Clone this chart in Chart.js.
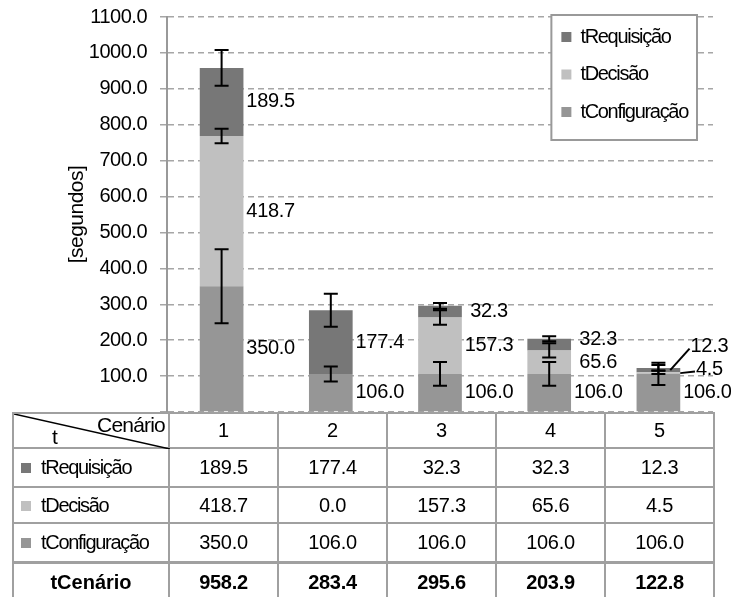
<!DOCTYPE html>
<html>
<head>
<meta charset="utf-8">
<script src="https://cdn.jsdelivr.net/npm/chart.js@4.4.0/dist/chart.umd.min.js"></script>
<style>
  body { margin: 0; width: 731px; height: 597px; overflow: hidden; background: #fff;
         font-family: "Liberation Sans", Arial, sans-serif; }
  #wrap { position: absolute; left: 0; top: 0; width: 731px; height: 413px; }
  #tbl { position: absolute; left: 12px; top: 412px; border-collapse: collapse;
         table-layout: fixed; width: 701px; font-size: 20px; color: #000; }
  #tbl td { border: 2px solid #a0a0a0; text-align: center; padding: 0; letter-spacing: -0.3px; }
  #tbl td.name { text-align: left; padding-left: 7px; letter-spacing: -1.3px; }
  #tbl tr.total td { border-top-width: 3px; font-weight: bold; }
  #tbl tr.total td.name { text-align: center; padding-left: 0; letter-spacing: 0; }
  .mk { display: inline-block; width: 10px; height: 10px; margin-right: 10px; vertical-align: 1px; }
  #corner { position: relative; }
  #corner svg { position: absolute; left: 0; top: 0; }
  #corner .c1 { position: absolute; right: 3px; top: -1px; letter-spacing: -0.8px; font-size: 21px; }
  #corner .c2 { position: absolute; left: 38px; bottom: -2px; font-size: 21px; }
</style>
</head>
<body>
<div id="wrap"><canvas id="chart"></canvas></div>
<table id="tbl"></table>
<script>
const categories = ["1", "2", "3", "4", "5"];
const seriesNames = ["tConfiguração", "tDecisão", "tRequisição"];
const tConfiguracao = [350.0, 106.0, 106.0, 106.0, 106.0];
const tDecisao = [418.7, 0.0, 157.3, 65.6, 4.5];
const tRequisicao = [189.5, 177.4, 32.3, 32.3, 12.3];
// half-length of the error bars
const errConfiguracao = [103, 21, 33, 33, 31];
const errDecisao = [20, 0, 20, 20, 5];
const errRequisicao = [50, 46, 8, 7, 8];
const colors = ["#969696", "#c0c0c0", "#777777"];
const yMax = 1100;
const yStep = 100;

const FONT = '"Liberation Sans", Arial, sans-serif';

const errorBars = {
  id: "errorBars",
  afterDatasetsDraw(chart) {
    const { ctx } = chart;
    const y = chart.scales.y;
    ctx.save();
    ctx.strokeStyle = "#000";
    ctx.lineWidth = 2;
    chart.data.datasets.forEach((ds, di) => {
      const meta = chart.getDatasetMeta(di);
      meta.data.forEach((bar, i) => {
        const e = ds.err[i];
        if (!e) return;
        let top = 0;
        for (let k = 0; k <= di; k++) top += chart.data.datasets[k].data[i];
        const hi = y.getPixelForValue(top + e);
        const lo = y.getPixelForValue(top - e);
        ctx.beginPath();
        ctx.moveTo(bar.x, hi); ctx.lineTo(bar.x, lo);
        ctx.moveTo(bar.x - 7, hi); ctx.lineTo(bar.x + 7, hi);
        ctx.moveTo(bar.x - 7, lo); ctx.lineTo(bar.x + 7, lo);
        ctx.stroke();
      });
    });
    ctx.restore();
  }
};

const valueLabels = {
  id: "valueLabels",
  afterDatasetsDraw(chart) {
    const { ctx } = chart;
    ctx.save();
    ctx.font = "20px " + FONT;
    ctx.letterSpacing = "-0.3px";
    ctx.fillStyle = "#000";
    ctx.strokeStyle = "#000";
    ctx.lineWidth = 2;
    ctx.textBaseline = "middle";
    ctx.textAlign = "center";
    categories.forEach((c, i) => {
      let prev = Infinity;
      chart.data.datasets.forEach((ds, di) => {
        const v = ds.data[i];
        if (!v) return;
        const bar = chart.getDatasetMeta(di).data[i];
        const mid = (bar.y + bar.base) / 2;
        const ly = Math.min(mid, prev - 23);
        prev = ly;
        const right = bar.x + bar.width / 2;
        const text = v.toFixed(1);
        let cx = bar.x + 49;
        if (Math.abs(bar.base - bar.y) < 8) {
          // tiny segment: label pushed aside with a leader line
          cx = bar.x + 51;
          const left = cx - ctx.measureText(text).width / 2;
          ctx.beginPath();
          ctx.moveTo(ly < mid - 10 ? right - 10 : right, mid);
          ctx.lineTo(left - 1, ly + 2);
          ctx.stroke();
        }
        ctx.fillText(text, cx, ly);
      });
    });
    ctx.restore();
  }
};

const legendBox = {
  id: "legendBox",
  afterDraw(chart) {
    const { ctx, chartArea } = chart;
    ctx.save();
    ctx.font = "20px " + FONT;
    ctx.letterSpacing = "-1.3px";
    const items = chart.data.datasets.slice().reverse();
    const tw = Math.max(...items.map(d => ctx.measureText(d.label).width));
    const w = 30 + tw + 8, h = 125;
    const x0 = chartArea.right - 16 - w, y0 = 15;
    ctx.fillStyle = "#fff";
    ctx.fillRect(x0, y0, w, h);
    ctx.strokeStyle = "#999";
    ctx.lineWidth = 2;
    ctx.strokeRect(x0, y0, w, h);
    ctx.textBaseline = "middle";
    items.forEach((d, k) => {
      const cy = y0 + 22 + k * 37.5;
      ctx.fillStyle = d.backgroundColor;
      ctx.fillRect(x0 + 10, cy - 5, 10, 10);
      ctx.fillStyle = "#000";
      ctx.fillText(d.label, x0 + 29, cy);
    });
    ctx.restore();
  }
};

const spacing = {
  id: "spacing",
  beforeDraw(chart) { chart.ctx.letterSpacing = "-0.5px"; }
};

new Chart(document.getElementById("chart"), {
  type: "bar",
  data: {
    labels: categories,
    datasets: [
      { label: seriesNames[0], data: tConfiguracao, backgroundColor: colors[0], err: errConfiguracao },
      { label: seriesNames[1], data: tDecisao, backgroundColor: colors[1], err: errDecisao },
      { label: seriesNames[2], data: tRequisicao, backgroundColor: colors[2], err: errRequisicao }
    ]
  },
  options: {
    responsive: true,
    maintainAspectRatio: false,
    animation: false,
    layout: { padding: { top: 17, right: 18, bottom: 1, left: 0 } },
    datasets: { bar: { barPercentage: 0.4, categoryPercentage: 1 } },
    plugins: { legend: { display: false }, tooltip: { enabled: false } },
    scales: {
      x: { stacked: true, display: false },
      y: {
        stacked: true,
        min: 0,
        max: yMax,
        afterFit(scale) {
          scale.width = 167;
          scale.paddingTop = 0;
          scale.paddingBottom = 0;
        },
        border: { display: true, color: "#999", width: 2, dash: [6, 4] },
        grid: { color: "#a6a6a6", lineWidth: 1.5, tickLength: 7, tickBorderDash: [] },
        ticks: {
          stepSize: yStep,
          padding: 13,
          color: "#000",
          font: { family: FONT, size: 20 },
          callback: v => (v === 0 ? "" : v.toFixed(1))
        },
        title: {
          display: true,
          text: "[segundos]",
          color: "#000",
          font: { family: FONT, size: 21 },
          padding: { top: 65, bottom: 0 }
        }
      }
    }
  },
  plugins: [spacing, errorBars, valueLabels, legendBox]
});

// data table under the plot
const tbl = document.getElementById("tbl");
let html = '<colgroup><col style="width:156px">' + categories.map(() => '<col style="width:109px">').join("") + "</colgroup>";
html += '<tr style="height:35px"><td id="corner"><svg width="156" height="35"><line x1="0" y1="0" x2="156" y2="35" stroke="#000" stroke-width="1.5"/></svg>' +
        '<span class="c1">Cenário</span><span class="c2">t</span></td>' +
        categories.map(c => "<td>" + c + "</td>").join("") + "</tr>";
const rows = [[2, tRequisicao, 39], [1, tDecisao, 36], [0, tConfiguracao, 39]];
rows.forEach(([k, vals, h]) => {
  html += '<tr style="height:' + h + 'px"><td class="name"><span class="mk" style="background:' + colors[k] + '"></span>' +
          seriesNames[k] + "</td>" + vals.map(v => "<td>" + v.toFixed(1) + "</td>").join("") + "</tr>";
});
const totals = categories.map((c, i) => tConfiguracao[i] + tDecisao[i] + tRequisicao[i]);
html += '<tr class="total" style="height:40px"><td class="name">tCenário</td>' +
        totals.map(v => "<td>" + v.toFixed(1) + "</td>").join("") + "</tr>";
tbl.innerHTML = html;
</script>
</body>
</html>
